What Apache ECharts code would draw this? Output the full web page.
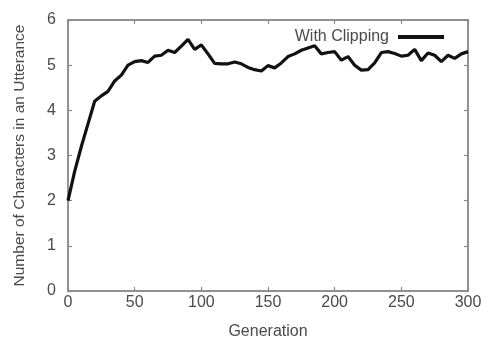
<!DOCTYPE html>
<html>
<head>
<meta charset="utf-8">
<script src="https://cdn.jsdelivr.net/npm/echarts@6/dist/echarts.min.js"></script>
<style>html,body{margin:0;padding:0;background:#fff}#c{width:485px;height:342px}</style>
</head>
<body>
<div id="c"></div>
<script>
const generations = [0,5,10,15,20,25,30,35,40,45,50,55,60,65,70,75,80,85,90,95,100,105,110,115,120,125,130,135,140,145,150,155,160,165,170,175,180,185,190,195,200,205,210,215,220,225,230,235,240,245,250,255,260,265,270,275,280,285,290,295,300];
const withClipping = [2.0,2.65,3.2,3.7,4.2,4.32,4.42,4.65,4.78,5.0,5.08,5.1,5.06,5.2,5.22,5.33,5.28,5.42,5.57,5.35,5.45,5.25,5.04,5.03,5.03,5.07,5.03,4.95,4.9,4.87,4.99,4.94,5.05,5.19,5.25,5.33,5.38,5.43,5.25,5.28,5.3,5.11,5.19,5.0,4.89,4.9,5.05,5.28,5.3,5.26,5.2,5.22,5.35,5.1,5.27,5.22,5.08,5.22,5.15,5.25,5.3];
const xTicks = [0,50,100,150,200,250,300];
const yTicks = [0,1,2,3,4,5,6];

const axisGray = '#8a8a8a';
const textGray = '#4a4a4a';
const font = 'Liberation Sans';
const chart = echarts.init(document.getElementById('c'));
function axisBase() {
  return {
    axisLine: {show: true, onZero: false, lineStyle: {color: axisGray, width: 1.5}},
    axisTick: {show: true, inside: true, length: 4, lineStyle: {color: axisGray, width: 1.2}},
    splitLine: {show: false}
  };
}
chart.setOption({
  animation: false,
  grid: {left: 68, right: 17, top: 20, bottom: 51, containLabel: false, outerBoundsMode: 'none',
    show: true, borderColor: axisGray, borderWidth: 1.5, backgroundColor: 'transparent'},
  legend: {
    right: 36, top: 24, align: 'right',
    itemWidth: 46, itemHeight: 4, itemGap: 10,
    textStyle: {color: textGray, fontFamily: font, fontSize: 16, padding: [0, 4, 0, 0]},
    data: [{name: 'With Clipping', icon: 'rect'}]
  },
  xAxis: [
    Object.assign(axisBase(), {
      type: 'value', min: 0, max: 300, interval: 50,
      name: 'Generation', nameLocation: 'middle', nameGap: 33,
      nameTextStyle: {color: textGray, fontFamily: font, fontSize: 16},
      axisLabel: {color: textGray, fontFamily: font, fontSize: 16, margin: 4,
        formatter: v => xTicks.includes(v) ? String(v) : ''}
    }),
    Object.assign(axisBase(), {
      type: 'value', min: 0, max: 300, interval: 50, position: 'top',
      axisLabel: {show: false}
    })
  ],
  yAxis: [
    Object.assign(axisBase(), {
      type: 'value', min: 0, max: 6, interval: 1,
      name: 'Number of Characters in an Utterance', nameLocation: 'middle', nameGap: 40,
      nameTextStyle: {color: textGray, fontFamily: font, fontSize: 15.5},
      axisLabel: {color: textGray, fontFamily: font, fontSize: 16, margin: 12,
        formatter: v => yTicks.includes(v) ? String(v) : ''}
    }),
    Object.assign(axisBase(), {
      type: 'value', min: 0, max: 6, interval: 1, position: 'right',
      axisLabel: {show: false}
    })
  ],
  series: [{
    name: 'With Clipping', type: 'line', showSymbol: false, symbol: 'none',
    lineStyle: {color: '#111', width: 3.2}, itemStyle: {color: '#111'},
    data: generations.map((g, i) => [g, withClipping[i]])
  }, {
    name: 'frame', type: 'line', xAxisIndex: 1, yAxisIndex: 1,
    showSymbol: false, silent: true, data: []
  }]
});
</script>
</body>
</html>
